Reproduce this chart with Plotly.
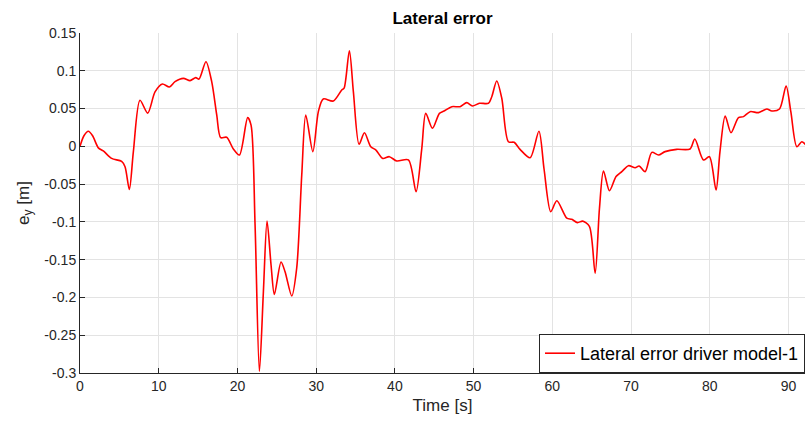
import plotly.graph_objects as go

# 시간 [s] / 횡방향 오차 [m]
t = [0, 0.5, 1.06, 1.6, 2.33, 2.96, 4.02, 5.29, 5.72, 6.27, 6.78, 7.62, 8.6, 9.53,
     10.46, 11.35, 12.07, 13.13, 13.98, 14.7, 15.12, 16.0, 16.73, 17.37, 17.87, 18.63,
     19.48, 20.25, 21.3, 21.73, 22.24, 22.79, 23.3, 23.76, 24.27, 24.69, 25.54, 26.05,
     26.9, 27.53, 28.17, 28.68, 29.58, 30.28, 30.9, 32.18, 33.25, 33.55, 34.22, 34.73,
     35.45, 36.13, 36.94, 37.6, 38.46, 39.3, 40.24, 41.72, 42.69, 43.42, 43.92, 44.77,
     45.66, 46.25, 47.23, 48.28, 49.13, 49.85, 50.74, 51.88, 52.31, 52.94, 53.58, 54.42,
     55.15, 55.9, 57.18, 58.3, 58.95, 59.8, 60.57, 61.84, 62.47, 63.19, 63.86, 64.71,
     65.44, 65.99, 66.5, 67.26, 68.1, 68.83, 69.67, 70.52, 71.03, 71.79, 72.64, 73.49,
     74.33, 75.8, 77.5, 78.1, 79.2, 79.96, 80.8, 81.3, 81.96, 82.7, 83.65, 84.28, 85.13,
     86.19, 87.25, 87.88, 88.86, 89.7, 90.3, 91.06, 91.7, 92.2]
ey = [0.0, 0.014, 0.020, 0.014, -0.002, -0.006, -0.016, -0.020, -0.027, -0.057, -0.007,
      0.061, 0.044, 0.072, 0.0825, 0.0785, 0.0856, 0.090, 0.087, 0.091, 0.089, 0.112,
      0.0856, 0.0415, 0.0115, 0.012, -0.0035, -0.0115, 0.038, 0.028, -0.104, -0.298,
      -0.192, -0.099, -0.157, -0.196, -0.153, -0.166, -0.198, -0.161, -0.038, 0.0415,
      -0.007, 0.046, 0.0627, 0.060, 0.0746, 0.077, 0.1266, 0.072, 0.0027, 0.018, -0.0005,
      -0.005, -0.016, -0.0137, -0.0194, -0.018, -0.060, -0.0027, 0.0437, 0.0239, 0.0437,
      0.0468, 0.0525, 0.0525, 0.0578, 0.0534, 0.057, 0.057, 0.0657, 0.0865, 0.0636,
      0.0061, 0.0053, -0.004, -0.015, 0.020, -0.030, -0.0865, -0.072, -0.095, -0.0966,
      -0.101, -0.099, -0.106, -0.168, -0.082, -0.0326, -0.0587, -0.040, -0.0335, -0.0256,
      -0.0283, -0.026, -0.0335, -0.008, -0.0115, -0.007, -0.004, -0.0035, 0.0097, -0.018,
      -0.0137, -0.0578, -0.007, 0.0402, 0.018, 0.038, 0.0393, 0.0459, 0.0446, 0.0494,
      0.0468, 0.0494, 0.0799, 0.0459, -0.0005, 0.0061, 0.002]

x_ticks = [0, 10, 20, 30, 40, 50, 60, 70, 80, 90]
y_ticks = [0.15, 0.1, 0.05, 0, -0.05, -0.1, -0.15, -0.2, -0.25, -0.3]
y_labels = ["0.15", "0.1", "0.05", "0", "-0.05", "-0.1", "-0.15", "-0.2", "-0.25", "-0.3"]

FONT = "Liberation Sans, Arial, Helvetica, sans-serif"
AX = "#262626"
GRID = "#e3e3e3"

fig = go.Figure()
fig.add_trace(go.Scatter(x=t, y=ey, mode="lines", name="Lateral error driver model-1",
                         line=dict(color="#ff0000", width=1.6, shape="spline", smoothing=0.8)))

fig.update_layout(
    width=806, height=428,
    margin=dict(l=80, r=1, t=33, b=55),
    paper_bgcolor="white", plot_bgcolor="white",
    font=dict(family=FONT, size=14, color=AX),
    title=dict(text="<b>Lateral error</b>", x=0.5, xref="paper", y=1 - 18 / 428,
               yref="container", xanchor="center", yanchor="middle",
               font=dict(family=FONT, size=17, color="black")),
    legend=dict(x=1, y=0, xanchor="right", yanchor="bottom", bgcolor="white",
                bordercolor=AX, borderwidth=1, font=dict(size=18, color="black"),
                itemwidth=30, tracegroupgap=0),
    showlegend=True,
)
fig.update_xaxes(range=[0, 92.1], tickvals=x_ticks, ticks="inside", ticklen=5,
                 tickcolor=AX, showline=True, linecolor=AX, linewidth=1,
                 showgrid=True, gridcolor=GRID, zeroline=False,
                 title=dict(text="Time [s]", font=dict(size=17), standoff=6))
fig.update_yaxes(range=[-0.3, 0.15], tickvals=y_ticks, ticktext=y_labels, ticks="inside",
                 ticklen=5, tickcolor=AX, showline=True, linecolor=AX, linewidth=1,
                 showgrid=True, gridcolor=GRID, zeroline=False,
                 title=dict(text="e<sub>y</sub> [m]", font=dict(size=17), standoff=10))

# 페이지 기본 여백 제거, 모드바 숨김
fig.write_html("out.html", config={"displayModeBar": False},
               post_script="document.body.style.margin='0';")
